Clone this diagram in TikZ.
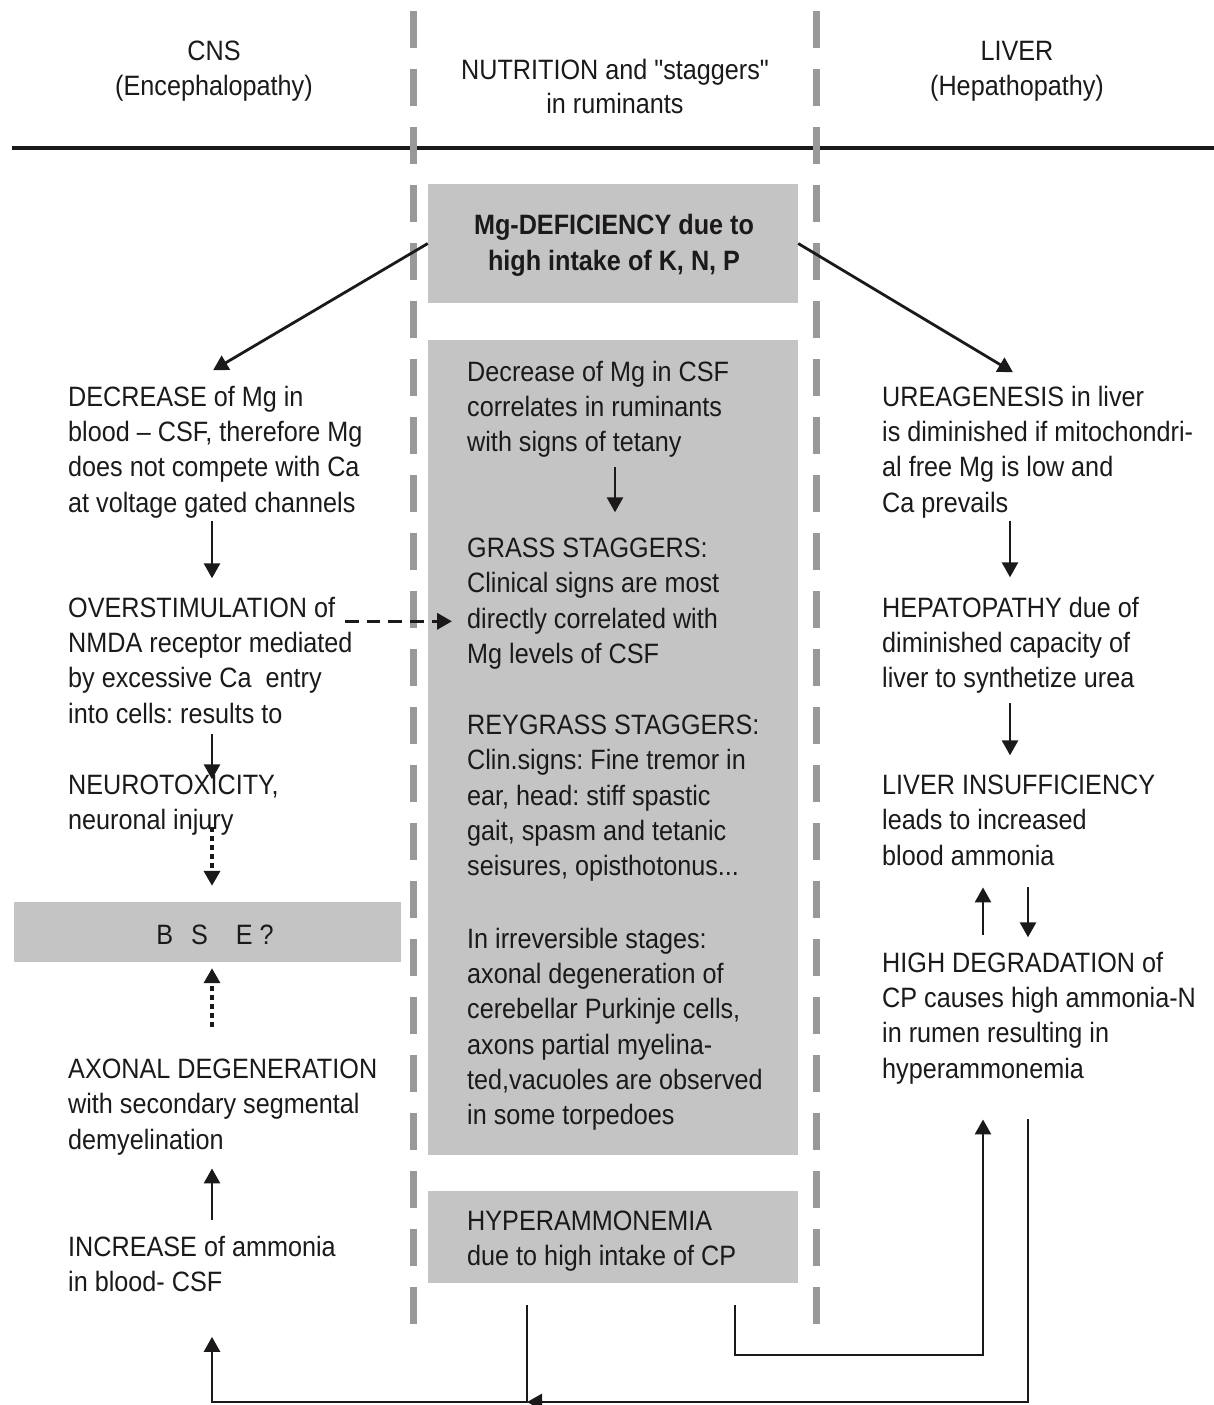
\documentclass[tikz,border=0pt]{standalone}
\usepackage{fontspec}
\setmainfont{Liberation Sans}[FakeStretch=0.9, Ligatures=TeXOff]
\usetikzlibrary{arrows.meta,calc}
\definecolor{tcol}{RGB}{28,25,26}
\definecolor{boxgray}{RGB}{196,196,196}
\definecolor{sepgray}{RGB}{153,153,153}
\tikzset{
  txt/.style={anchor=north west, inner sep=0pt, align=left, text=tcol, yshift=-3.5pt,
    font=\fontsize{28}{35.3}\selectfont\frenchspacing, execute at begin node=\strut},
  ctxt/.style={txt, anchor=north, align=center},
  gbox/.style={fill=boxgray, draw=none, inner sep=0pt, rectangle},
  sepline/.style={draw=sepgray, line width=7pt, dash pattern=on 37pt off 21pt},
  arr/.style={draw=tcol, line width=2.8pt, -{Triangle[length=15pt,width=16pt]}},
  dotarr/.style={arr, line width=3.5pt, dash pattern=on 5pt off 4pt},
  dasharr/.style={arr, line width=3.5pt, dash pattern=on 13.5pt off 8.2pt},
}
\begin{document}
\frenchspacing
\begin{tikzpicture}[x=1pt,y=-1pt]
\useasboundingbox (0,0) rectangle (1214,1405);
% column reference coordinates
\coordinate (lx) at (212,0);
\coordinate (mx) at (615,0);
\coordinate (rx) at (1010,0);
\coordinate (rxu) at (983,0);
\coordinate (rxd) at (1028,0);
\coordinate (bx1) at (527,0);
\coordinate (bx2) at (735,0);
\coordinate (bot) at (0,1402);
\coordinate (mid) at (0,1355);

% header rule
\draw[tcol, line width=4pt] (12,148) -- (1214,148);

% headers
\node[ctxt] (hcns) at (214,37.3) {CNS\\(Encephalopathy)};
\node[ctxt, font=\fontsize{28}{34.3}\selectfont\frenchspacing] (hnut) at (615,55.3) {NUTRITION and "staggers"\\in ruminants};
\node[ctxt] (hliv) at (1017,37.3) {LIVER\\(Hepathopathy)};

% grey boxes
\node[gbox, minimum width=370pt, minimum height=119pt] (topbox) at (613,243.5) {};
\node[gbox, minimum width=370pt, minimum height=815pt] (midbox) at (613,747.5) {};
\node[gbox, minimum width=370pt, minimum height=92pt] (hyp) at (613,1237) {};
\node[gbox, minimum width=387pt, minimum height=60pt] (bse) at (207.5,932) {};

% separators
\draw[sepline] (413.5,11) -- (413.5,1324);
\draw[sepline] (816,11) -- (816,1324);

% top box text
\node[ctxt, font=\fontsize{28}{36}\selectfont\bfseries\frenchspacing] (toptxt) at (614,210.3) {Mg-DEFICIENCY due to\\high intake of K, N, P};

% left column
\node[txt] (A1) at (68,382.3) {DECREASE of Mg in\\blood – CSF, therefore Mg\\does not compete with Ca\\at voltage gated channels};
\node[txt] (A2) at (68,593.3) {OVERSTIMULATION of\\NMDA receptor mediated\\by excessive Ca \ entry\\into cells: results to};
\node[txt] (A3) at (68,771.3) {NEUROTOXICITY,\\neuronal injury};
\node[anchor=base, inner sep=0pt, text=tcol, font=\fontsize{28}{35.3}\selectfont] (bsetxt) at (215,944) {B\hspace{11pt} S\hspace{21pt} E ?};
\node[txt] (A4) at (68,1055.3) {AXONAL DEGENERATION\\with secondary segmental\\demyelination};
\node[txt] (A5) at (68,1232.3) {INCREASE of ammonia\\in blood- CSF};

% middle column
\node[txt] (M1) at (467,357.3) {Decrease of Mg in CSF\\correlates in ruminants\\with signs of tetany};
\node[txt] (M2) at (467,534.3) {GRASS STAGGERS:\\Clinical signs are most\\directly correlated with\\Mg levels of CSF};
\node[txt] (M3) at (467,711.3) {REYGRASS STAGGERS:\\Clin.signs: Fine tremor in\\ear, head: stiff spastic\\gait, spasm and tetanic\\seisures, opisthotonus...};
\node[txt] (M4) at (467,924.3) {In irreversible stages:\\axonal degeneration of\\cerebellar Purkinje cells,\\axons partial myelina-\\ted,vacuoles are observed\\in some torpedoes};
\node[txt] (M5) at (467,1207.3) {HYPERAMMONEMIA\\due to high intake of CP};

% right column
\node[txt] (R1) at (882,382.3) {UREAGENESIS in liver\\is diminished if mitochondri-\\al free Mg is low and\\Ca prevails};
\node[txt] (R2) at (882,593.3) {HEPATOPATHY due of\\diminished capacity of\\liver to synthetize urea};
\node[txt] (R3) at (882,771.3) {LIVER INSUFFICIENCY\\leads to increased\\blood ammonia};
\node[txt] (R4) at (882,948.3) {HIGH DEGRADATION of\\CP causes high ammonia-N\\in rumen resulting in\\hyperammonemia};

% arrows from the top box
\draw[arr] (topbox.west) -- ($(A1.north -| lx)+(1,-15.5)$);
\draw[arr] (topbox.east) -- ($(R1.north -| rx)+(3,-13.5)$);

% left column arrows
\draw[arr] ($(A1.south -| lx)+(0,-1.5)$) -- ($(A2.north -| lx)+(0,-18.5)$);
\draw[arr] ($(A2.south -| lx)+(0,0.5)$) -- ($(A3.north -| lx)+(0,4.5)$);
\draw[dotarr] ($(A3.south -| lx)+(0,-13.5)$) -- ($(bse.north -| lx)+(0,-16)$);
\draw[dotarr] ($(A4.north -| lx)+(0,-31.5)$) -- ($(bse.south -| lx)+(0,6)$);
\draw[arr] ($(A5.north -| lx)+(0,-15.5)$) -- ($(A4.south -| lx)+(0,8.5)$);

% middle arrows
\draw[arr] ($(M1.south -| mx)+(0,4.5)$) -- ($(M2.north -| mx)+(0,-25.5)$);
\draw[dasharr] ($(A2.north west)+(277,24.5)$) -- ($(M2.north west)+(-15,83.5)$);

% right column arrows
\draw[arr] ($(R1.south -| rx)+(0,-1.5)$) -- ($(R2.north -| rx)+(0,-19.5)$);
\draw[arr] ($(R2.south -| rx)+(0,4.5)$) -- ($(R3.north -| rx)+(0,-19.5)$);
\draw[arr] ($(R4.north -| rxu)+(0,-16.8)$) -- ($(R3.south -| rxu)+(0,11.5)$);
\draw[arr] ($(R3.south -| rxd)+(0,11.5)$) -- ($(R4.north -| rxd)+(0,-14.5)$);

% bottom loops
\draw[arr] ($(hyp.south -| bx2)+(0,22)$) |- (mid -| rxu) -- ($(R4.south -| rxu)+(0,30.5)$);
\draw[arr] ($(R4.south -| rxd)+(0,30.5)$) |- (bot -| bx1);
\draw[arr] ($(hyp.south -| bx1)+(0,22)$) |- (bot -| lx) -- ($(A5.south -| lx)+(0,34.5)$);
\end{tikzpicture}
\end{document}
